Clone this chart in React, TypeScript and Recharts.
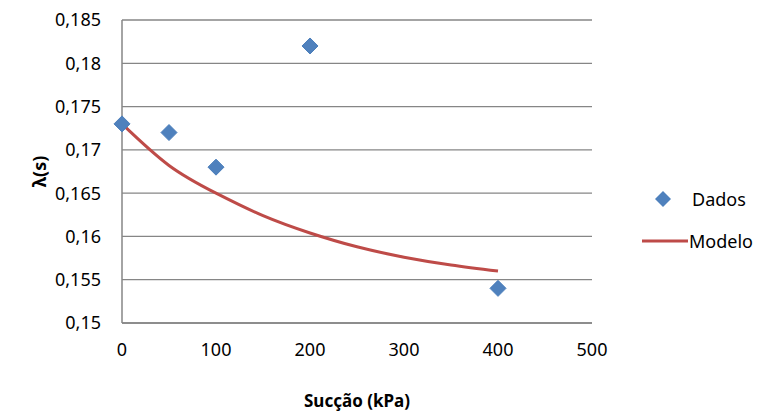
import { CartesianGrid, ComposedChart, Line, Scatter, XAxis, YAxis } from "recharts";

const dadosSuccao = [0, 50, 100, 200, 400];
const dadosLambda = [0.173, 0.172, 0.168, 0.182, 0.154];

const modeloSuccao = [0, 50, 100, 150, 200, 250, 300, 350, 400];
const modeloLambda = [0.173, 0.1682, 0.165, 0.1624, 0.1604, 0.1588, 0.1576, 0.1567, 0.156];

const xTicks = [0, 100, 200, 300, 400, 500];
const yTicks = [0.15, 0.155, 0.16, 0.165, 0.17, 0.175, 0.18, 0.185];

const BLUE = "#4f81bd";
const RED = "#be4b48";
const GRID = "#868686";
const FONT = "'Noto Sans', 'Liberation Sans', sans-serif";

const dados = dadosSuccao.map((x, i) => ({ x, dados: dadosLambda[i] }));
const modelo = modeloSuccao.map((x, i) => ({ x, modelo: modeloLambda[i] }));

function Diamond({ cx, cy }: any) {
  if (cx == null || cy == null) return null;
  const r = 8;
  return (
    <polygon
      points={`${cx},${cy - r} ${cx + r},${cy} ${cx},${cy + r} ${cx - r},${cy}`}
      fill={BLUE}
      stroke="#4a7ebb"
      strokeWidth={1}
    />
  );
}

export default function App() {
  return (
    <div style={{ position: "absolute", left: 0, top: 0, width: 765, height: 417, background: "#fff", fontFamily: FONT }}>
      <ComposedChart width={765} height={417} margin={{ top: 20, right: 173, bottom: 0, left: 0 }}>
        <CartesianGrid vertical={false} stroke={GRID} strokeWidth={1.3} />
        <XAxis
          type="number"
          dataKey="x"
          domain={[0, 500]}
          ticks={xTicks}
          height={94}
          tickLine={false}
          tickSize={0}
          tickMargin={20}
          axisLine={{ stroke: GRID, strokeWidth: 1.5 }}
          tick={{ fill: "#000", fontSize: 18, fontFamily: FONT }}
          label={{
            value: "Sucção (kPa)",
            position: "insideBottom",
            offset: 10,
            style: { fill: "#000", fontSize: 17, fontWeight: 700, fontFamily: FONT },
          }}
        />
        <YAxis
          type="number"
          domain={[0.15, 0.185]}
          ticks={yTicks}
          width={122}
          interval={0}
          tickLine={false}
          tickSize={0}
          tickMargin={21}
          axisLine={{ stroke: GRID, strokeWidth: 1.5 }}
          tick={{ fill: "#000", fontSize: 18, fontFamily: FONT }}
          tickFormatter={(v: number) => String(v).replace(".", ",")}
          label={{
            value: "λ(s)",
            angle: -90,
            position: "insideLeft",
            offset: 40,
            style: { fill: "#000", fontSize: 18, fontWeight: 700, fontFamily: FONT, textAnchor: "middle" },
          }}
        />
        <Line
          data={modelo}
          dataKey="modelo"
          type="natural"
          stroke={RED}
          strokeWidth={3}
          dot={false}
          isAnimationActive={false}
        />
        <Scatter data={dados} dataKey="dados" shape={<Diamond />} isAnimationActive={false} />
      </ComposedChart>
      <div style={{ position: "absolute", left: 0, top: 0, pointerEvents: "none" }}>
        <svg width={765} height={417} style={{ position: "absolute", left: 0, top: 0 }}>
          <polygon points="663,191 671,199 663,207 655,199" fill={BLUE} />
          <line x1={642} y1={241} x2={688} y2={241} stroke={RED} strokeWidth={3} />
          <text x={692} y={199} dominantBaseline="central" fontSize={18} fontFamily={FONT} fill="#000">
            Dados
          </text>
          <text x={689} y={241} dominantBaseline="central" fontSize={18} fontFamily={FONT} fill="#000">
            Modelo
          </text>
        </svg>
      </div>
    </div>
  );
}
